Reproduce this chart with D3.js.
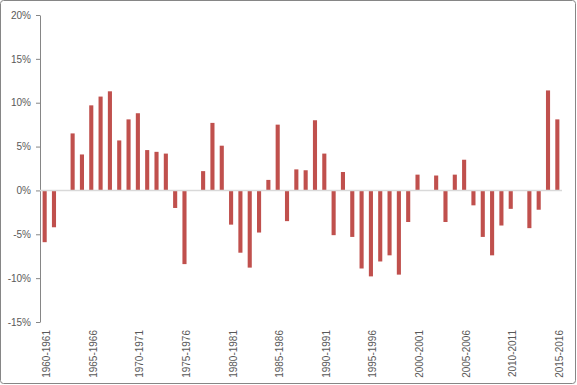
<!DOCTYPE html>
<html>
<head>
<meta charset="utf-8">
<script src="https://cdn.jsdelivr.net/npm/d3@7"></script>
<style>
  body { margin: 0; background: #fff; }
  svg { display: block; }
</style>
</head>
<body>
<script>
// fiscal years, 1960-1961 .. 2015-2016
const years = d3.range(1960, 2016).map(y => `${y}-${y + 1}`)
// yearly change, %
const changes = [
  -5.9, -4.2, 0, 6.5, 4.1, 9.7, 10.7, 11.3, 5.7, 8.1,
  8.8, 4.6, 4.4, 4.2, -2.0, -8.4, 0, 2.2, 7.7, 5.1,
  -3.9, -7.1, -8.8, -4.8, 1.2, 7.5, -3.5, 2.4, 2.3, 8.0,
  4.2, -5.1, 2.1, -5.3, -8.9, -9.8, -8.1, -7.4, -9.6, -3.6,
  1.8, 0, 1.7, -3.6, 1.8, 3.5, -1.7, -5.3, -7.4, -4.0,
  -2.1, 0, -4.3, -2.2, 11.4, 8.1,
]
const yTicks = [-15, -10, -5, 0, 5, 10, 15, 20]

const width = 577
const height = 385
const margin = { top: 15, right: 15, bottom: 63, left: 40 }

const svg = d3.select('body').append('svg')
  .attr('width', width)
  .attr('height', height)

// chart border
svg.append('rect')
  .attr('x', 0.5).attr('y', 0.5)
  .attr('width', width - 2).attr('height', height - 2)
  .attr('rx', 3)
  .attr('fill', '#fff')
  .attr('stroke', '#868686')

const x = d3.scaleBand()
  .domain(years)
  .range([margin.left, width - margin.right])
  .paddingInner(0.56)
  .paddingOuter(0.28)

const y = d3.scaleLinear()
  .domain([-15, 20])
  .range([height - margin.bottom, margin.top])

// y axis
const yAxis = svg.append('g')
  .attr('transform', `translate(${margin.left},0)`)
  .call(d3.axisLeft(y).tickValues(yTicks).tickSize(4).tickSizeOuter(0)
    .tickFormat(d => d + '%'))
yAxis.select('.domain').attr('stroke', '#868686')
yAxis.selectAll('.tick line').attr('stroke', '#868686')
yAxis.selectAll('.tick text')
  .attr('x', -9)
  .attr('fill', '#595959')
  .style('font', '10px "Liberation Sans", Arial, sans-serif')

// bars
svg.selectAll('.bar')
  .data(changes)
  .enter()
  .append('rect')
  .attr('class', 'bar')
  .attr('x', (d, i) => x(years[i]))
  .attr('width', x.bandwidth())
  .attr('y', d => y(Math.max(0, d)))
  .attr('height', d => Math.abs(y(d) - y(0)))
  .attr('fill', '#C0504D')

// zero line
svg.append('line')
  .attr('x1', margin.left).attr('x2', width - margin.right)
  .attr('y1', y(0)).attr('y2', y(0))
  .attr('stroke', '#D9D9D9')
  .attr('stroke-width', 1.5)

// category labels, every fifth year
svg.append('g')
  .selectAll('text')
  .data(years.filter((d, i) => i % 5 === 0))
  .enter()
  .append('text')
  .attr('transform', d => `translate(${x(d) + x.bandwidth() / 2 + 2},${height - margin.bottom + 8}) rotate(-90)`)
  .attr('text-anchor', 'end')
  .attr('dy', '0.35em')
  .attr('fill', '#595959')
  .style('font', '10px "Liberation Sans", Arial, sans-serif')
  .text(d => d)
</script>
</body>
</html>
